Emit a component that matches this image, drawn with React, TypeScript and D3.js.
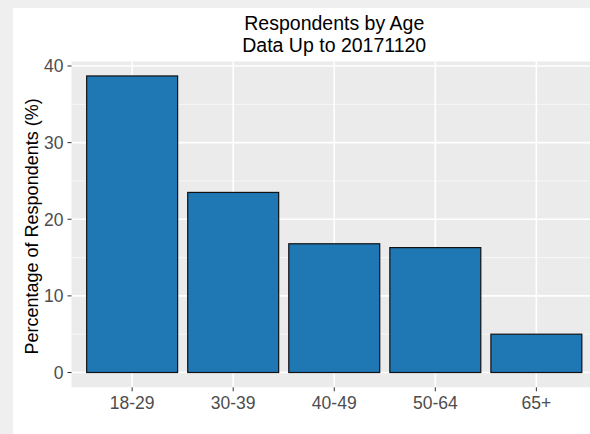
import React from "react";
import * as d3 from "d3";

const categories = ["18-29", "30-39", "40-49", "50-64", "65+"];
const values = [38.7, 23.5, 16.8, 16.3, 5.0];
const yTicks = [0, 10, 20, 30, 40];
const yMinor = [5, 15, 25, 35];
const titleLines = ["Respondents by Age", "Data Up to 20171120"];
const yTitle = "Percentage of Respondents (%)";

export default function App() {
  const W = 590, H = 434;
  const panel = { left: 71.5, right: 597, top: 61.5, bottom: 387.3 };
  // ggplot-style discrete scale: 0.6 units of expansion each side
  const x = d3.scalePoint<string>()
    .domain(categories)
    .range([panel.left + (panel.right - panel.left) * 0.6 / 5.2, panel.right - (panel.right - panel.left) * 0.6 / 5.2]);
  const step = x.step();
  const bw = step * 0.9;
  const y = d3.scaleLinear().domain([0, 40]).range([372.5, 66]);
  const font = "Liberation Sans, Arial, sans-serif";
  const cx = (panel.left + panel.right) / 2;
  return (
    <svg width={W} height={H} style={{ position: "absolute", left: 0, top: 0 }} fontFamily={font}>
      <rect x={0} y={0} width={W} height={H} fill="#efefef" />
      <rect x={13} y={8} width={W} height={H} fill="#ffffff" />
      <rect x={panel.left} y={panel.top} width={panel.right - panel.left} height={panel.bottom - panel.top} fill="#ebebeb" />
      {yMinor.map((t) => (
        <line key={"m" + t} x1={panel.left} x2={panel.right} y1={y(t)} y2={y(t)} stroke="#fafafa" strokeWidth={0.8} />
      ))}
      {yTicks.map((t) => (
        <line key={"g" + t} x1={panel.left} x2={panel.right} y1={y(t)} y2={y(t)} stroke="#ffffff" strokeWidth={1.6} />
      ))}
      {categories.map((c) => (
        <line key={"v" + c} x1={x(c)} x2={x(c)} y1={panel.top} y2={panel.bottom} stroke="#ffffff" strokeWidth={1.6} />
      ))}
      {categories.map((c, i) => (
        <rect key={"b" + c} x={(x(c) as number) - bw / 2} y={y(values[i])} width={bw} height={y(0) - y(values[i])}
          fill="#1f77b4" stroke="#111" strokeWidth={1.2} />
      ))}
      {yTicks.map((t) => (
        <g key={"t" + t}>
          <line x1={panel.left - 4} x2={panel.left} y1={y(t)} y2={y(t)} stroke="#333" strokeWidth={1} />
          <text x={panel.left - 8} y={y(t)} dy="0.36em" textAnchor="end" fontSize={17.5} fill="#4d4d4d">{t}</text>
        </g>
      ))}
      {categories.map((c) => (
        <g key={"xt" + c}>
          <line x1={x(c)} x2={x(c)} y1={panel.bottom} y2={panel.bottom + 4} stroke="#333" strokeWidth={1} />
          <text x={x(c)} y={408.5} textAnchor="middle" fontSize={17.5} fill="#4d4d4d">{c}</text>
        </g>
      ))}
      <text transform={`translate(38,${(panel.top + panel.bottom) / 2 + 2}) rotate(-90)`} textAnchor="middle" fontSize={18} fill="#000">{yTitle}</text>
      {titleLines.map((l, i) => (
        <text key={l} x={cx} y={30 + i * 22} textAnchor="middle" fontSize={19.5} fill="#000">{l}</text>
      ))}
    </svg>
  );
}
